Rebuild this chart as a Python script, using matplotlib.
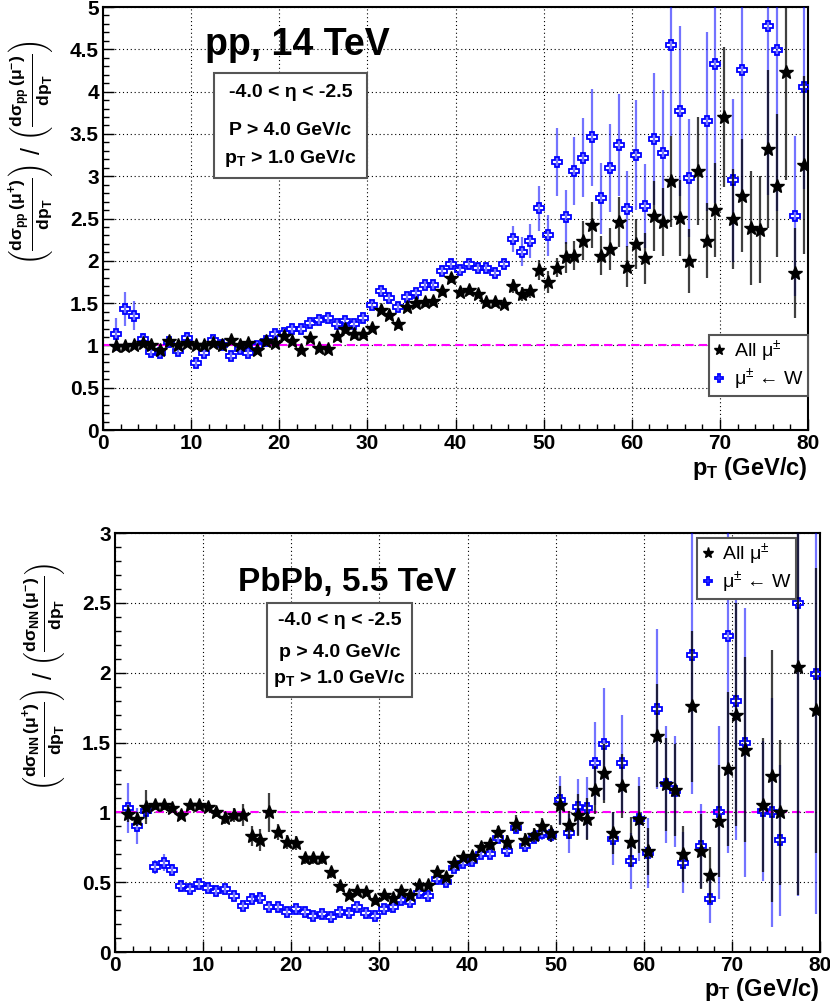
import numpy as np
import matplotlib
matplotlib.use('Agg')
import matplotlib.pyplot as plt
from matplotlib.patches import Rectangle
from matplotlib.ticker import MultipleLocator

plt.rcParams['font.family'] = ['Liberation Sans', 'DejaVu Sans']
plt.rcParams['mathtext.fontset'] = 'custom'
plt.rcParams['mathtext.rm'] = 'Liberation Sans'
plt.rcParams['mathtext.it'] = 'Liberation Sans:italic'
plt.rcParams['mathtext.bf'] = 'Liberation Sans:bold'

nan = np.nan
pt = np.arange(1.5, 80, 1.0)   # bin centres (GeV/c)

# ---------------- pp, 14 TeV ----------------
pp_all = [0.99, 0.99, 1.01, 1.03, 1.00, 0.95, 1.05, 1.01, 1.03, 1.01,
          1.01, 1.03, 1.01, 1.07, 1.01, 1.03, 0.95, 1.05, 1.03, 1.11,
          1.05, 0.95, 1.09, 0.97, 0.96, 1.11, 1.20, 1.13, 1.13, 1.21,
          1.42, 1.36, 1.25, 1.46, 1.50, 1.51, 1.52, 1.64, 1.80, 1.63,
          1.65, 1.61, 1.51, 1.51, 1.49, 1.70, 1.61, 1.64, 1.89, 1.75,
          1.92, 2.04, 2.06, 2.24, 2.42, 2.06, 2.14, 2.46, 1.93, 2.20,
          2.03, 2.53, 2.46, 2.94, 2.51, 2.00, 3.06, 2.24, 2.60, 3.70,
          2.49, 2.77, 2.39, 2.37, 3.32, 2.89, 4.23, 1.86, 3.13]
pp_all_err = [0.03, 0.03, 0.03, 0.03, 0.03, 0.03, 0.05, 0.03, 0.05, 0.03,
              0.03, 0.03, 0.03, 0.04, 0.03, 0.04, 0.05, 0.04, 0.04, 0.05,
              0.04, 0.04, 0.05, 0.04, 0.04, 0.06, 0.06, 0.05, 0.05, 0.05,
              0.05, 0.05, 0.05, 0.05, 0.05, 0.05, 0.05, 0.06, 0.06, 0.05,
              0.05, 0.05, 0.05, 0.05, 0.05, 0.08, 0.08, 0.08, 0.12, 0.13,
              0.11, 0.18, 0.17, 0.23, 0.27, 0.23, 0.25, 0.30, 0.24, 0.30,
              0.30, 0.41, 0.40, 0.54, 0.45, 0.38, 0.64, 0.44, 0.56, 0.83,
              0.59, 0.67, 0.67, 0.63, 0.93, 0.85, 1.27, 0.53, 1.05]
pp_w = [1.13, 1.43, 1.35, 1.08, 0.92, 0.91, 1.04, 0.94, 1.09, 0.79,
        0.91, 1.06, 1.01, 0.88, 0.96, 0.91, 0.99, 1.05, 1.13, 1.15,
        1.19, 1.20, 1.26, 1.30, 1.33, 1.25, 1.29, 1.25, 1.32, 1.48,
        1.64, 1.56, 1.46, 1.57, 1.62, 1.72, 1.72, 1.88, 1.96, 1.89,
        1.96, 1.92, 1.92, 1.86, 1.96, 2.26, 2.11, 2.23, 2.62, 2.30,
        3.17, 2.52, 3.06, 3.22, 3.46, 2.74, 3.10, 3.37, 2.61, 3.25,
        2.65, 3.44, 3.27, 4.55, 3.77, 2.98, nan, 3.65, 4.33, nan,
        2.95, 4.26, nan, nan, 4.78, 4.49, nan, 2.53, 4.05]
pp_w_err = [0.20, 0.20, 0.17, 0.07, 0.06, 0.05, 0.07, 0.05, 0.07, 0.05,
            0.05, 0.05, 0.05, 0.05, 0.05, 0.05, 0.05, 0.05, 0.05, 0.05,
            0.05, 0.05, 0.05, 0.05, 0.05, 0.05, 0.05, 0.05, 0.05, 0.05,
            0.05, 0.05, 0.05, 0.05, 0.05, 0.05, 0.05, 0.06, 0.06, 0.06,
            0.06, 0.06, 0.06, 0.06, 0.06, 0.15, 0.17, 0.20, 0.27, 0.24,
            0.40, 0.32, 0.40, 0.47, 0.57, 0.42, 0.52, 0.60, 0.45, 0.65,
            0.50, 0.78, 0.75, 1.07, 1.00, 0.70, nan, 1.06, 1.65, nan,
            0.96, 1.50, nan, nan, 2.00, 1.90, nan, 0.95, 1.20]

# ---------------- PbPb, 5.5 TeV ----------------
pb_all = [0.99, 0.95, 1.04, 1.05, 1.05, 1.03, 0.98, 1.05, 1.05, 1.04,
          1.00, 0.96, 0.98, 0.98, 0.83, 0.80, 1.00, 0.86, 0.79, 0.78,
          0.67, 0.67, 0.67, 0.57, 0.47, 0.41, 0.44, 0.43, 0.37, 0.41,
          0.39, 0.44, 0.41, 0.48, 0.48, 0.57, 0.54, 0.64, 0.68, 0.69,
          0.75, 0.77, 0.86, 0.79, 0.92, 0.80, 0.84, 0.90, 0.85, 1.05,
          0.91, 0.98, 0.95, 1.16, 1.28, 0.85, 1.19, 0.79, 0.95, 0.72,
          1.55, 1.20, 1.16, 0.70, 1.76, 0.72, 0.55, 0.94, 1.31, 1.70,
          1.45, nan, 1.05, 1.26, 1.00, nan, 2.04, nan, 1.73]
pb_all_err = [0.06, 0.05, 0.12, 0.03, 0.03, 0.03, 0.03, 0.03, 0.03, 0.03,
              0.03, 0.04, 0.05, 0.08, 0.07, 0.08, 0.14, 0.06, 0.05, 0.05,
              0.04, 0.04, 0.04, 0.04, 0.03, 0.03, 0.03, 0.03, 0.03, 0.03,
              0.03, 0.03, 0.03, 0.03, 0.03, 0.03, 0.03, 0.03, 0.03, 0.03,
              0.03, 0.04, 0.04, 0.05, 0.06, 0.05, 0.05, 0.06, 0.06, 0.14,
              0.10, 0.15, 0.15, 0.17, 0.21, 0.15, 0.23, 0.18, 0.24, 0.17,
              0.37, 0.33, 0.33, 0.20, 0.54, 0.27, 0.20, 0.40, 0.55, 0.80,
              0.66, nan, 0.48, 0.90, 0.52, nan, 1.63, nan, 1.02]
pb_w = [1.03, 0.90, 1.01, 0.61, 0.64, 0.59, 0.47, 0.45, 0.49, 0.46,
        0.44, 0.45, 0.40, 0.33, 0.38, 0.39, 0.32, 0.32, 0.29, 0.31,
        0.29, 0.26, 0.27, 0.25, 0.29, 0.28, 0.32, 0.28, 0.26, 0.31,
        0.32, 0.37, 0.36, 0.42, 0.40, 0.52, 0.50, 0.60, 0.64, 0.65,
        0.70, 0.70, 0.82, 0.72, 0.89, 0.76, 0.82, 0.85, 0.84, 1.09,
        0.85, 1.04, 1.03, 1.35, 1.49, 0.81, 1.35, 0.65, 0.95, 0.71,
        1.74, 1.20, 1.15, 0.64, 2.13, 0.76, 0.38, 1.00, 2.26, 1.80,
        1.50, nan, 1.01, 1.00, 0.80, nan, 2.50, nan, 1.99]
pb_w_err = [0.18, 0.13, 0.06, 0.05, 0.06, 0.04, 0.03, 0.03, 0.03, 0.03,
            0.03, 0.03, 0.03, 0.03, 0.03, 0.03, 0.03, 0.03, 0.03, 0.03,
            0.03, 0.03, 0.03, 0.03, 0.03, 0.03, 0.03, 0.03, 0.03, 0.03,
            0.03, 0.03, 0.03, 0.03, 0.03, 0.03, 0.03, 0.03, 0.03, 0.03,
            0.03, 0.03, 0.03, 0.04, 0.04, 0.04, 0.04, 0.05, 0.05, 0.17,
            0.14, 0.20, 0.22, 0.30, 0.40, 0.19, 0.35, 0.20, 0.30, 0.25,
            0.57, 0.42, 0.40, 0.22, 1.00, 0.30, 0.17, 0.62, 1.55, 1.00,
            0.96, nan, 0.50, 0.82, 0.54, nan, 2.10, nan, 1.72]

label_all = 'All μ$^{\\pm}$'
label_w = 'μ$^{\\pm}$ ← W'


def draw_panel(ax, yall, eall, yw, ew, ymax, legloc, legbox):
    ax.axhline(1.0, color='#ff00ff', lw=1.5, ls=(0, (4, 2.5)), zorder=2)
    cw = ax.errorbar(pt, yw, yerr=ew, fmt='P', ms=6.5, mfc='none', mec='blue', mew=1.3,
                     ecolor=(0, 0, 1, 0.55), elinewidth=1.6, capsize=0, zorder=3)
    ca = ax.errorbar(pt, yall, yerr=eall, fmt='*', ms=10, color='black',
                     ecolor=(0, 0, 0, 0.75), elinewidth=1.6, capsize=0, zorder=4)
    ax.set_xlim(0, 80)
    ax.set_ylim(0, ymax)
    ax.xaxis.set_major_locator(MultipleLocator(10))
    ax.xaxis.set_minor_locator(MultipleLocator(2))
    ax.yaxis.set_major_locator(MultipleLocator(0.5))
    ax.yaxis.set_minor_locator(MultipleLocator(0.1))
    ax.grid(True, which='major', color='black', ls=(0, (1, 2.5)), lw=0.8)
    ax.tick_params(which='both', direction='in', top=False, right=False,
                   labelsize=15, pad=3)
    ax.tick_params(which='major', length=8, width=1)
    ax.tick_params(which='minor', length=4.5, width=1)
    for lbl in ax.get_xticklabels() + ax.get_yticklabels():
        lbl.set_fontweight('bold')
    ax.set_yticks(np.arange(0, ymax + 0.01, 0.5))
    ax.set_yticklabels(['%g' % v for v in np.arange(0, ymax + 0.01, 0.5)], fontweight='bold')
    for s in ax.spines.values():
        s.set_linewidth(1.5)
    # legend shows markers only (no error bars)
    leg = ax.legend([ca[0], cw[0]], [label_all, label_w], loc=legloc, bbox_to_anchor=legbox,
                    fontsize=14, fancybox=False, framealpha=1, edgecolor='#555555',
                    borderaxespad=0, handlelength=0.7, handletextpad=0.4, borderpad=0.2,
                    labelspacing=0.15, markerscale=0.8)
    leg.get_frame().set_linewidth(1.5)


fig = plt.figure(figsize=(8.3, 10.05), dpi=100)

# top panel
ax1 = fig.add_axes([0.1241, 0.5721, 0.8494, 0.4209])
draw_panel(ax1, pp_all, pp_all_err, pp_w, pp_w_err, 5, 'lower right', (1.0, 0.08))
ax1.text(0.145, 0.91, 'pp, 14 TeV', transform=ax1.transAxes, fontsize=27,
         fontweight='bold', ha='left', va='center')
ax1.add_patch(Rectangle((0.1574, 0.5957), 0.2171, 0.2483, transform=ax1.transAxes,
                        facecolor='white', edgecolor='#555555', lw=1.5, zorder=5))
ax1.text(0.266, 0.797, '-4.0 < η < -2.5', transform=ax1.transAxes, fontsize=14,
         fontweight='bold', ha='center', va='center', zorder=6)
ax1.text(0.266, 0.707, 'P > 4.0 GeV/c', transform=ax1.transAxes, fontsize=14,
         fontweight='bold', ha='center', va='center', zorder=6)
ax1.text(0.266, 0.641, r'$\mathbf{p_{T}}$ > 1.0 GeV/c', transform=ax1.transAxes, fontsize=14,
         fontweight='bold', ha='center', va='center', zorder=6)
ax1.text(1.0, -0.058, r'$\mathbf{p_{T}}$ (GeV/c)', transform=ax1.transAxes, fontsize=17,
         fontweight='bold', ha='right', va='top')
fig.text(0.0373, 0.8478,
         r'$\left(\mathbf{\frac{d\sigma_{pp}\,(\mu^{+})}{dp_{T}}}\right)\ /\ '
         r'\left(\mathbf{\frac{d\sigma_{pp}\,(\mu^{-})}{dp_{T}}}\right)$',
         rotation=90, fontsize=18, ha='center', va='center')

# bottom panel
ax2 = fig.add_axes([0.1386, 0.0527, 0.8494, 0.4169])
draw_panel(ax2, pb_all, pb_all_err, pb_w, pb_w_err, 3, 'upper right', (0.966, 0.988))
ax2.text(0.1745, 0.883, 'PbPb, 5.5 TeV', transform=ax2.transAxes, fontsize=24,
         fontweight='bold', ha='left', va='center')
ax2.add_patch(Rectangle((0.2156, 0.6086), 0.2057, 0.2243, transform=ax2.transAxes,
                        facecolor='white', edgecolor='#555555', lw=1.5, zorder=5))
ax2.text(0.3184, 0.792, '-4.0 < η < -2.5', transform=ax2.transAxes, fontsize=14,
         fontweight='bold', ha='center', va='center', zorder=6)
ax2.text(0.3184, 0.716, 'p > 4.0 GeV/c', transform=ax2.transAxes, fontsize=14,
         fontweight='bold', ha='center', va='center', zorder=6)
ax2.text(0.3184, 0.654, r'$\mathbf{p_{T}}$ > 1.0 GeV/c', transform=ax2.transAxes, fontsize=14,
         fontweight='bold', ha='center', va='center', zorder=6)
ax2.text(1.0, -0.058, r'$\mathbf{p_{T}}$ (GeV/c)', transform=ax2.transAxes, fontsize=17,
         fontweight='bold', ha='right', va='top')
fig.text(0.0518, 0.3264,
         r'$\left(\mathbf{\frac{d\sigma_{NN}\,(\mu^{+})}{dp_{T}}}\right)\ /\ '
         r'\left(\mathbf{\frac{d\sigma_{NN}\,(\mu^{-})}{dp_{T}}}\right)$',
         rotation=90, fontsize=18, ha='center', va='center')

fig.savefig('out.png', dpi=100)
